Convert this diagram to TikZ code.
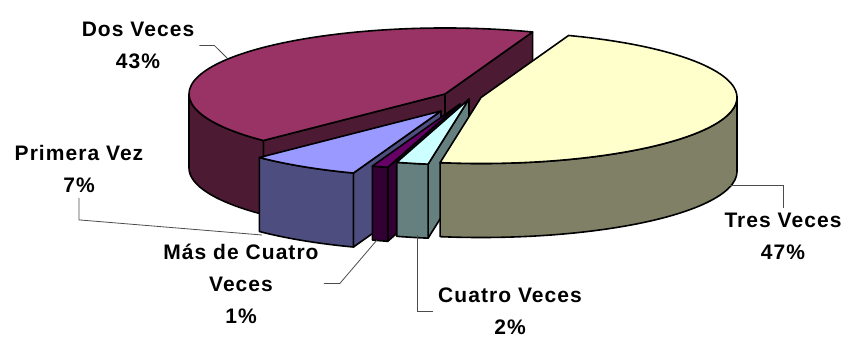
\documentclass[tikz,border=0pt]{standalone}
\usepackage{fontspec}
\usepackage{xcolor}
\usepackage{tikz}
\newfontfamily\lblfont{Liberation Sans}[LetterSpace=5.0]
\definecolor{dostop}{RGB}{153,51,102}
\definecolor{dosside}{RGB}{77,26,51}
\definecolor{trestop}{RGB}{255,255,204}
\definecolor{tresside}{RGB}{128,128,102}
\definecolor{primtop}{RGB}{153,153,255}
\definecolor{primside}{RGB}{77,77,128}
\definecolor{mastop}{RGB}{102,0,102}
\definecolor{masside}{RGB}{51,0,51}
\definecolor{cuatrotop}{RGB}{204,255,255}
\definecolor{cuatroside}{RGB}{102,128,128}
\tikzstyle{pie}=[draw=black,line width=1.6pt,line join=round,x radius=256pt,y radius=66pt]
\tikzstyle{lbl}=[font=\lblfont\bfseries\fontsize{21}{32}\selectfont,align=center,inner sep=5pt]
\tikzstyle{leader}=[draw=black!70,line width=.8pt]
% apex x, apex y (downwards), angles, colour
\newcommand\topface[5]{\filldraw[pie,fill=#5] (#1,-#2) -- ++(#3:256pt and 66pt) arc[start angle=#3,end angle=#4] -- cycle;}
\newcommand\rimface[5]{\filldraw[pie,fill=#5] (#1,-#2) ++(#3:256pt and 66pt) arc[start angle=#3,end angle=#4] -- ++(0,-74) arc[start angle=#4,end angle=#3] -- cycle;}
\newcommand\cutface[4]{\filldraw[pie,fill=#4] (#1,-#2) -- ++(#3:256pt and 66pt) -- ++(0,-74) -- (#1,-#2-74) -- cycle;}

\begin{document}
\begin{tikzpicture}[x=1pt,y=1pt]
	\useasboundingbox (0,0) rectangle (846,-338);
	% Dos Veces
	\cutface{445}{94}{70}{dosside}
	\cutface{445}{94}{224.8}{dosside}
	\rimface{445}{94}{180}{224.8}{dosside}
	\topface{445}{94}{70}{224.8}{dostop}
	% Primera Vez
	\cutface{441}{111}{250}{primside}
	\rimface{441}{111}{224.8}{250}{primside}
	\topface{441}{111}{224.8}{250}{primtop}
	% Mas de Cuatro Veces
	\cutface{460}{104}{253.6}{masside}
	\rimface{460}{104}{250}{253.6}{masside}
	\topface{460}{104}{250}{253.6}{mastop}
	% Cuatro Veces
	\cutface{469}{99}{260.8}{cuatroside}
	\rimface{469}{99}{253.6}{260.8}{cuatroside}
	\topface{469}{99}{253.6}{260.8}{cuatrotop}
	% Tres Veces
	\rimface{481}{97.5}{260.8}{360}{tresside}
	\topface{481}{97.5}{260.8}{430}{trestop}

	\node[lbl] (lbl-dos) at (138,-45.5) {Dos Veces\\43\%};
	\node[lbl] (lbl-prim) at (79,-169) {Primera Vez\\7\%};
	\node[lbl] (lbl-mas) at (241,-283.5) {Más de Cuatro\\Veces\\1\%};
	\node[lbl] (lbl-cuatro) at (510,-311) {Cuatro Veces\\2\%};
	\node[lbl] (lbl-tres) at (783,-236.5) {Tres Veces\\47\%};

	\coordinate (dos-tip) at (227,-58);
	\coordinate (prim-tip) at (262,-235);
	\coordinate (mas-tip) at (377,-240);
	\coordinate (cuatro-tip) at (417,-235);
	\coordinate (tres-tip) at (730,-185);
	\draw[leader] (lbl-dos.east) -- ++(15,0) -- (dos-tip);
	\draw[leader] (lbl-prim.south) -- ++(0,-22) -- (prim-tip);
	\draw[leader] (lbl-mas.east) -- ++(16,0) -- (mas-tip);
	\draw[leader] (lbl-cuatro.west) -| (cuatro-tip);
	\draw[leader] (lbl-tres.north) |- (tres-tip);
\end{tikzpicture}
\end{document}
